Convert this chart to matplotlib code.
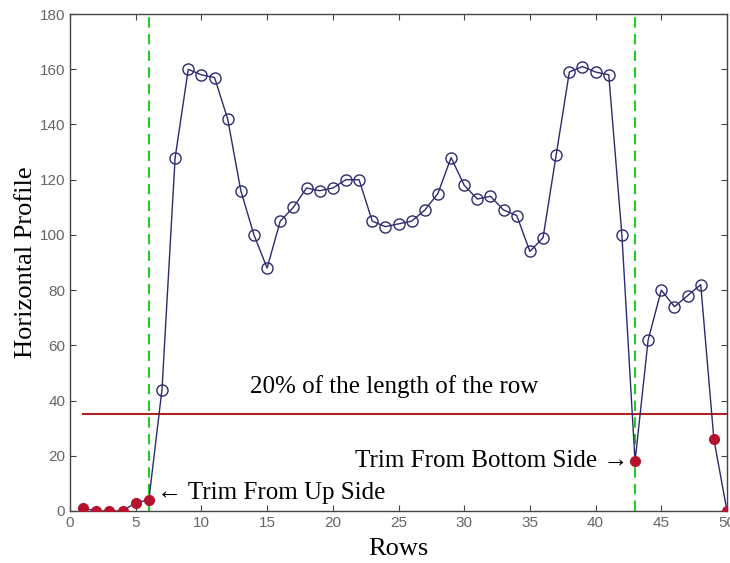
import matplotlib
matplotlib.use("Agg")
import matplotlib.pyplot as plt
import numpy as np

rows = list(range(1, 51))
profile = [1, 0, 0, 0, 3, 4, 44, 128, 160, 158,
           157, 142, 116, 100, 88, 105, 110, 117, 116, 117,
           120, 120, 105, 103, 104, 105, 109, 115, 128, 118,
           113, 114, 109, 107, 94, 99, 129, 159, 161, 159,
           158, 100, 18, 62, 80, 74, 78, 82, 26, 0]
trimmed_rows = [1, 2, 3, 4, 5, 6, 43, 49, 50]
threshold = 35
cut_rows = [6, 43]

fig = plt.figure(figsize=(7.3, 5.63), dpi=100)
ax = fig.add_axes([0.0959, 0.0924, 0.9, 0.8826])

x = np.array(rows)
y = np.array(profile)
mask = np.isin(x, trimmed_rows)

ax.plot(x, y, color="#2b2b6e", lw=1.0, zorder=3)
ax.plot(x[~mask], y[~mask], ls="none", marker="o", ms=8, mfc="none",
        mec="#2b2b6e", mew=1.0, zorder=4)
ax.plot(x[mask], y[mask], ls="none", marker="o", ms=7, mfc="#b5122e",
        mec="#b5122e", zorder=5)

ax.plot([1, 50], [threshold, threshold], color="#b22222", lw=1.5, zorder=2)
for c in cut_rows:
    ax.axvline(c, color="#22cc22", ls=(0, (5, 3)), lw=1.5, zorder=2)

serif = ["Liberation Serif", "DejaVu Serif"]
ax.text(24.7, 45, "20% of the length of the row", ha="center", va="center",
        fontsize=18, family=serif)
ax.text(42.5, 18, "Trim From Bottom Side \u2192", ha="right", va="center",
        fontsize=18, family=serif)
ax.text(6.6, 6.5, "\u2190 Trim From Up Side", ha="left", va="center",
        fontsize=18, family=serif)

ax.set_xlim(0, 50)
ax.set_ylim(0, 180)
ax.set_xticks(range(0, 51, 5))
ax.set_yticks(range(0, 181, 20))
ax.tick_params(direction="in", top=True, right=True, length=4,
               labelsize=11, labelcolor="#666666", color="#444444")
for lab in ax.get_xticklabels() + ax.get_yticklabels():
    lab.set_family(["Liberation Sans", "DejaVu Sans"])
for s in ax.spines.values():
    s.set_color("#444444")
    s.set_linewidth(1.0)

ax.set_xlabel("Rows", fontsize=19, family=serif, labelpad=6)
ax.set_ylabel("Horizontal Profile", fontsize=19, family=serif, labelpad=2)

fig.savefig("out.png", dpi=100)
